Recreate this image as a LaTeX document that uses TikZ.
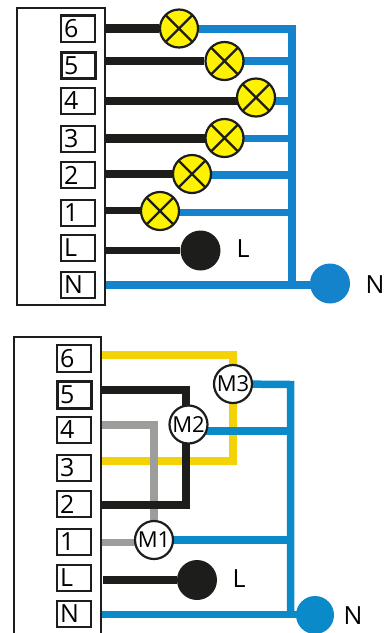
\documentclass[tikz,border=0pt]{standalone}
\usepackage{fontspec}
\setmainfont{Open Sans}
\usetikzlibrary{backgrounds}
\definecolor{wblack}{HTML}{1D1D1B}
\definecolor{wblue}{HTML}{1582CC}
\definecolor{wblueb}{HTML}{0A8AC9}
\definecolor{wyellow}{HTML}{F3D208}
\definecolor{wgrey}{HTML}{9D9D9C}
\definecolor{lampy}{HTML}{FFF200}
\tikzset{
  term/.style={draw=wblack,line width=2.4pt,rectangle,inner xsep=3pt,inner ysep=0pt,
    text width=28pt,align=left,minimum height=26.5pt,font=\fontsize{25}{25}\selectfont},
  lamp/.style={draw=wblack,line width=2.2pt,circle,fill=lampy,minimum size=38pt,inner sep=0pt,
    path picture={\draw[wblack,line width=2.2pt]
      (path picture bounding box.north west)--(path picture bounding box.south east)
      (path picture bounding box.north east)--(path picture bounding box.south west);}},
  motor/.style={draw=wblack,line width=2.2pt,circle,fill=white,minimum size=38pt,inner sep=0pt,
    font=\fontsize{22}{22}\selectfont},
  dot/.style={circle,minimum size=40pt,inner sep=0pt,fill=#1},
  lab/.style={inner sep=0pt,font=\fontsize{25}{25}\selectfont},
  wire/.style={line width=#1,line cap=butt},
  outline/.style={draw=wblack,line width=2pt},
}
\begin{document}
\begin{tikzpicture}[x=1pt,y=-1pt]
\useasboundingbox (0,0) rectangle (385,633);
% ---------- upper panel
\draw[outline] (17,7.5) rectangle (104.5,305);
\coordinate (ae) at (104.5,0);
\node[term] (a6) at (78,28.75) {6};
\node[term,line width=3pt] (a5) at (78,65.5) {5};
\node[term] (a4) at (78,101) {4};
\node[term] (a3) at (78,139) {3};
\node[term] (a2) at (78,175) {2};
\node[term] (a1) at (78,213) {1};
\node[term] (aL) at (78,248) {L};
\node[term] (aN) at (78,285) {N};
\node[lamp] (l6) at (179,28.5) {};
\node[lamp] (l5) at (224.5,61) {};
\node[lamp] (l4) at (256,97.5) {};
\node[lamp] (l3) at (224.5,138) {};
\node[lamp] (l2) at (192,174) {};
\node[lamp] (l1) at (160,211) {};
\node[dot=wblack] (aLd) at (200.5,250.5) {};
\node[dot=wblue] (aNd) at (330,283.5) {};
\node[lab] (aLt) at (243,249) {L};
\node[lab] (aNt) at (375,285) {N};
\coordinate (abt) at (292,28.5);
\coordinate (abb) at (292,285);
\coordinate (aw4) at (104.5,101);
\coordinate (aw3) at (104.5,138.5);
\coordinate (aw2) at (104.5,175);
\coordinate (aw1) at (104.5,212.5);
\coordinate (awk1) at (104.5,210.5);
\coordinate (awL) at (104.5,250.5);
\coordinate (awN) at (104.5,285);
\begin{scope}[on background layer]
  \draw[wire=8.5pt,wblack] (ae |- l6) -- (l6);
  \draw[wire=8.5pt,wblack] (ae |- l5) -- (l5);
  \draw[wire=8.5pt,wblack] (aw4) -- (aw4 -| l4);
  \draw[wire=8.5pt,wblack] (aw3) -- (aw3 -| l3);
  \draw[wire=7.5pt,wblack] (ae |- l2) -- (l2);
  \draw[wire=7.5pt,wblack] (awk1) -- (awk1 -| l1);
  \draw[wire=7.5pt,wblack] (awL) -- (aLd);
  \draw[wire=8pt,wblue,line join=miter] (l6) -- (abt) -- (abb);
  \draw[wire=7.5pt,wblue,line cap=rect] (l5) -- (l5 -| abt);
  \draw[wire=7.5pt,wblue,line cap=rect] (aw4 -| l4) -- (aw4 -| abt);
  \draw[wire=7.5pt,wblue,line cap=rect] (aw3 -| l3) -- (aw3 -| abt);
  \draw[wire=7.5pt,wblue,line cap=rect] (aw2 -| l2) -- (aw2 -| abt);
  \draw[wire=7.5pt,wblue,line cap=rect] (aw1 -| l1) -- (aw1 -| abt);
  \draw[wire=7.5pt,wblue] (awN) -- (aNd.center |- awN);
\end{scope}
% ---------- lower panel
\coordinate (btl) at (13.5,337);
\coordinate (btr) at (100.5,337);
\draw[outline] (13.5,640) -- (btl) -- (btr) -- (100.5,640);
\node[term] (b6) at (74,358.5) {6};
\node[term,line width=3pt] (b5) at (74,395) {5};
\node[term] (b4) at (74,430) {4};
\node[term] (b3) at (74,468) {3};
\node[term] (b2) at (74,504) {2};
\node[term] (b1) at (74,542) {1};
\node[term] (bL) at (74,578) {L};
\node[term] (bN) at (74,614) {N};
\node[motor] (m3) at (233,384) {M3};
\node[motor] (m2) at (188.5,424.5) {M2};
\node[motor] (m1) at (154,540) {M1};
\node[dot=wblack] (bLd) at (197,580) {};
\node[dot=wblueb,minimum size=38pt] (bNd) at (315,615) {};
\node[lab] (bLt) at (239,579) {L};
\node[lab] (bNt) at (353,616) {N};
\coordinate (ye1) at (100.5,355);
\coordinate (ye2) at (233,355);
\coordinate (ye3) at (233,461);
\coordinate (ye4) at (100.5,461);
\coordinate (gr1) at (100.5,425);
\coordinate (gr2) at (154,425);
\coordinate (gr3) at (100.5,542.5);
\coordinate (bk1) at (100.5,389.5);
\coordinate (bk2) at (186,389.5);
\coordinate (bk3) at (186,504.5);
\coordinate (bk4) at (100.5,504.5);
\coordinate (bbt) at (290.5,384.5);
\coordinate (bbb) at (290.5,614.5);
\coordinate (bw2) at (188.5,431);
\coordinate (bwL) at (103,580);
\coordinate (bwN) at (100.5,614.5);
\begin{scope}[on background layer]
  \draw[wire=8pt,wyellow,line join=miter] (ye1) -- (ye2) -- (ye3) -- (ye4);
  \draw[wire=7.5pt,wgrey,line join=miter] (gr1) -- (gr2) -- (m1);
  \draw[wire=7.5pt,wgrey] (gr3) -- (gr3 -| m1);
  \draw[wire=8pt,wblack,line join=miter] (bk1) -- (bk2) -- (bk3) -- (bk4);
  \draw[wire=7.5pt,wblueb,line join=miter] (m3) -- (bbt) -- (bbb);
  \draw[wire=7.5pt,wblueb,line cap=rect] (bw2) -- (bw2 -| bbt);
  \draw[wire=7.5pt,wblueb,line cap=rect] (m1) -- (m1 -| bbt);
  \draw[wire=8pt,wblack] (bwL) -- (bLd);
  \draw[wire=7.5pt,wblueb] (bwN) -- (bwN -| bNd);
\end{scope}
\end{tikzpicture}
\end{document}
